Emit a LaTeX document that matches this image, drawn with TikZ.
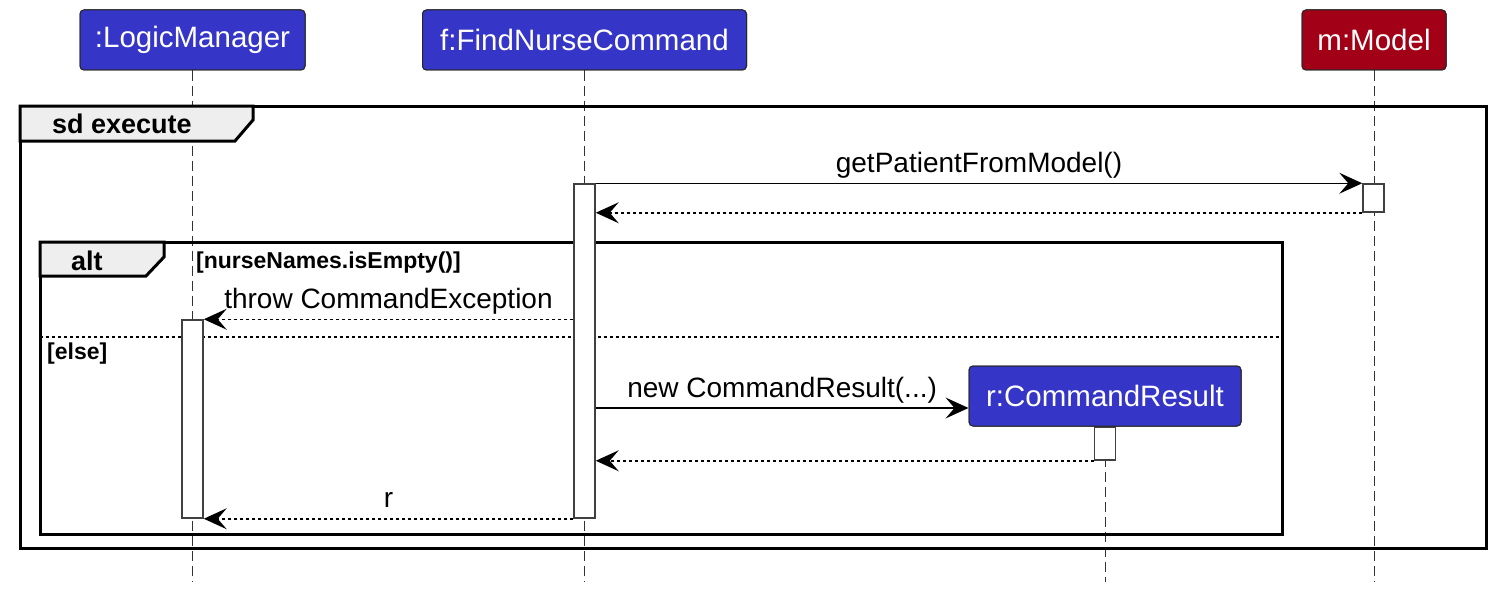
\documentclass[tikz,border=0pt]{standalone}
\usepackage{fontspec}
\setmainfont{Liberation Sans}
\usetikzlibrary{arrows.meta,calc}
\definecolor{pblue}{HTML}{3535C8}
\definecolor{pred}{HTML}{A10016}
\definecolor{tabgray}{HTML}{EEEEEE}
\begin{document}
\begin{tikzpicture}[x=1pt,y=-1pt,
  participant/.style={draw=black!85, line width=1pt, rounded corners=4pt, text=white,
    font=\fontsize{29.5}{32}\selectfont, inner sep=0pt, minimum height=60pt},
  act/.style={draw=black!75, fill=white, line width=1.5pt, minimum width=21pt, inner sep=0pt},
  msg/.style={line width=1.5pt, -{Stealth[length=23pt,width=21pt,inset=9pt,line width=0pt]}},
  ret/.style={msg, dash pattern=on 3pt off 3pt},
  lifeline/.style={line width=1pt, dash pattern=on 10pt off 5pt, black!80},
  frameline/.style={line width=3pt},
  tabshape/.style={fill=tabgray, line width=3pt, line join=miter},
  lbl/.style={font=\fontsize{28}{30}\selectfont, anchor=base, yshift=11pt, inner sep=0pt},
  tabtext/.style={font=\fontsize{27}{30}\selectfont\bfseries, anchor=base west, inner sep=0pt},
  guard/.style={font=\fontsize{23}{26}\selectfont\bfseries, anchor=base west, inner sep=0pt}
]
\useasboundingbox (0,0) rectangle (1496,594);
\coordinate (bot) at (0,582);

% participants (positions only; drawn later on top)
\path
  node[participant, fill=pblue, minimum width=225pt] (lm) at (192.5,40) {:LogicManager}
  node[participant, fill=pblue, minimum width=324pt] (fc) at (584.5,40) {f:FindNurseCommand}
  node[participant, fill=pred, minimum width=144pt] (mo) at (1374,40) {m:Model};
\path node[participant, minimum width=272pt] (rcpos) at (1105,396) {};

% lifelines
\draw[lifeline] (lm.south) -- (lm.south |- bot);
\draw[lifeline] (fc.south) -- (fc.south |- bot);
\draw[lifeline] (mo.south) -- (mo.south |- bot);
\draw[lifeline] (rcpos.south) -- (rcpos.south |- bot);

% outer frame
\draw[frameline] (20,106) rectangle (1486,548);
\draw[tabshape] (20,106) -- (253,106) -- (253,120) -- (235,141) -- (20,141) -- cycle;
\node[tabtext] (sdlbl) at (52,133) {sd execute};

% alt frame
\draw[frameline] (40,242) rectangle (1282,534);
\draw[tabshape] (40,242) -- (164,242) -- (164,257) -- (146,276) -- (40,276) -- cycle;
\node[tabtext] (altlbl) at (71,270) {alt};
\node[guard] (g1) at (196,268) {[nurseNames.isEmpty()]};
\draw[line width=1.5pt, dash pattern=on 3pt off 3pt] (40,337) -- (1282,337);
\node[guard] (g2) at (47,359) {[else]};

% activations
\node[act, minimum height=334pt] (fa) at (584.5,351) {};
\node[act, minimum height=28pt] (ma) at (1373.5,198) {};
\node[act, minimum height=198pt] (la) at (192.5,419) {};
\node[act, minimum height=33pt] (ra) at (1105,443.5) {};

% created participant box
\node[participant, fill=pblue, minimum width=272pt] (rc) at (1105,396) {r:CommandResult};
\coordinate (rin) at ([yshift=-12pt]rc.west);

% messages
\draw[msg] (fa.north east) -- node[lbl]{getPatientFromModel()} (ma.north west);
\draw[ret] (ma.south west) -- (fa.east |- ma.south west);
\draw[ret] (fa.west |- la.north) -- node[lbl]{throw CommandException} (la.north east);
\draw[msg] (fa.east |- rin) -- node[lbl]{new CommandResult(...)} (rin);
\draw[ret] (ra.south west) -- (fa.east |- ra.south west);
\draw[ret] (fa.south west) -- node[lbl]{r} (la.south east);

% participant boxes on top
\node[participant, fill=pblue, minimum width=225pt] at (lm) {:LogicManager};
\node[participant, fill=pblue, minimum width=324pt] at (fc) {f:FindNurseCommand};
\node[participant, fill=pred, minimum width=144pt] at (mo) {m:Model};
\end{tikzpicture}
\end{document}
